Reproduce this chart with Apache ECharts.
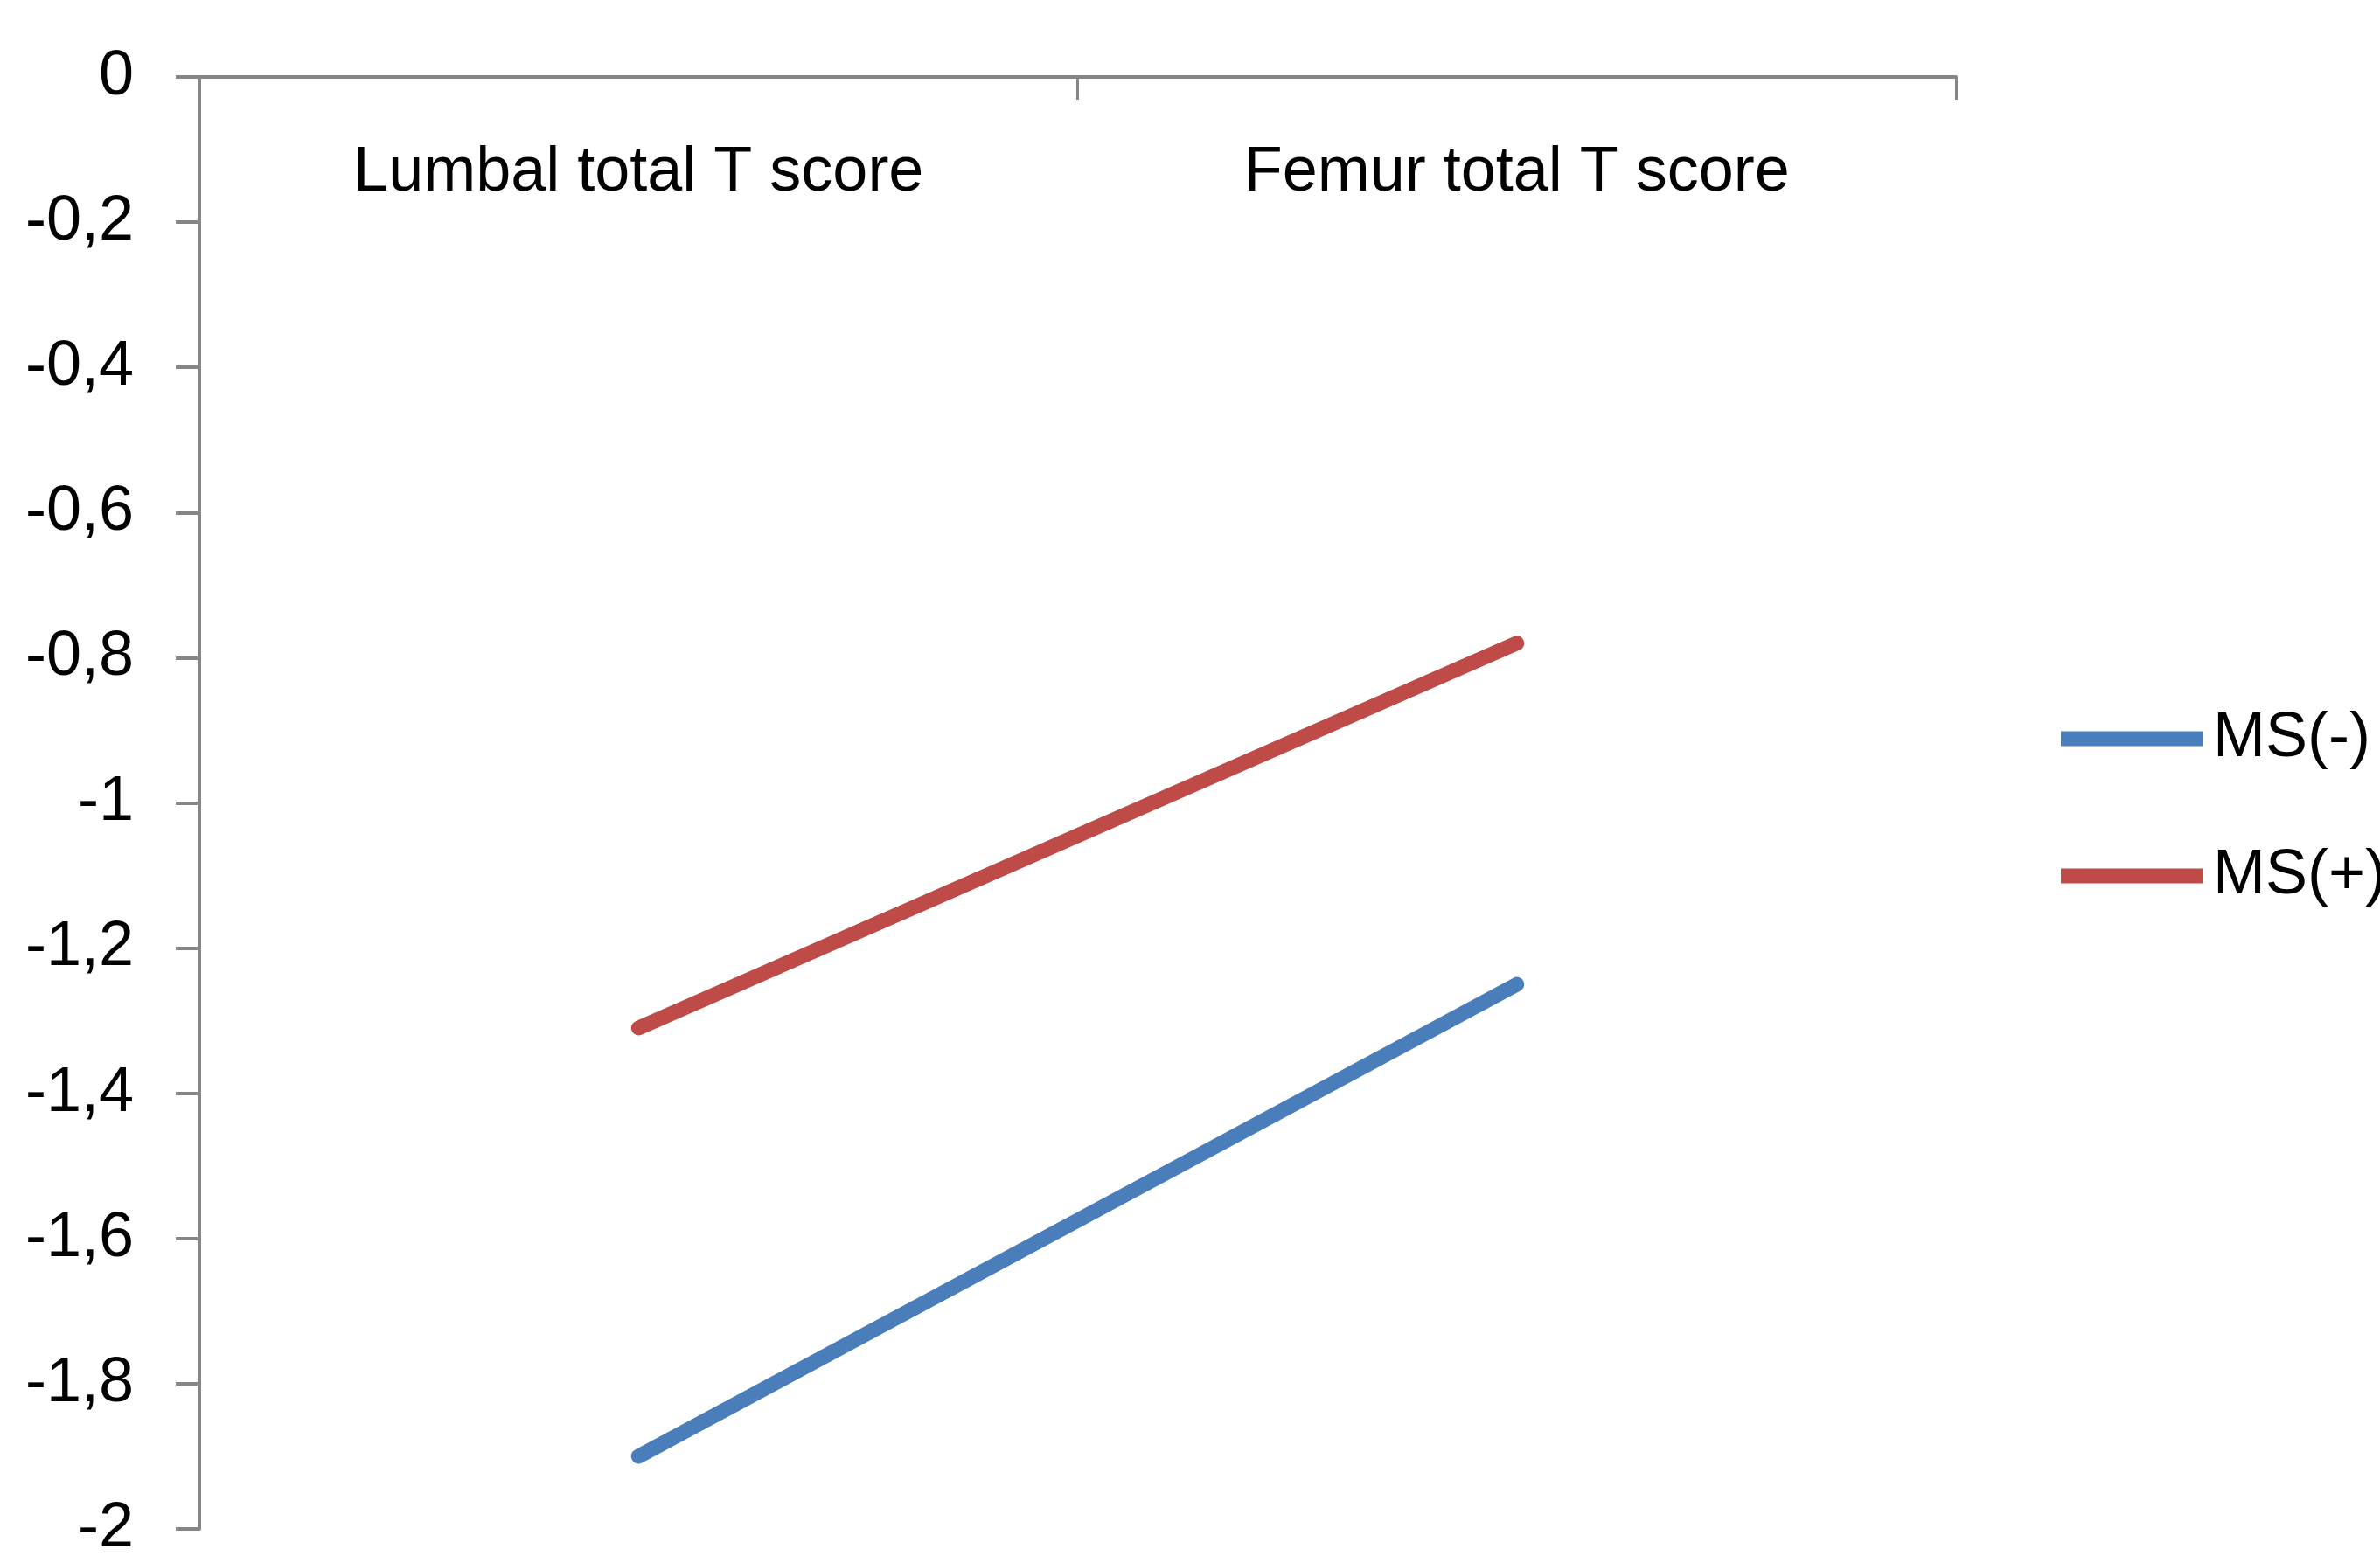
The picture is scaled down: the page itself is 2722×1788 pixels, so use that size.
<!DOCTYPE html>
<html>
<head>
<meta charset="utf-8">
<script src="https://cdn.jsdelivr.net/npm/echarts@6/dist/echarts.min.js"></script>
<style>
  html, body { margin: 0; padding: 0; background: #fff; }
  #chart { width: 2722px; height: 1788px; }
</style>
</head>
<body>
<div id="chart"></div>
<script>
// Mean T scores by measurement site, split by metabolic syndrome status
const categories = ['Lumbal total T score', 'Femur total T score'];
const seriesNames = ['MS(-)', 'MS(+)'];
const msNegative = [-1.9, -1.25];
const msPositive = [-1.31, -0.78];
const yTickLabels = ['0', '-0,2', '-0,4', '-0,6', '-0,8', '-1', '-1,2', '-1,4', '-1,6', '-1,8', '-2'];

const FONT = '"Liberation Sans", Arial, sans-serif';
const AXIS_GREY = '#868686';
const BLUE = '#4A7EBB';
const RED = '#BE4B48';

const chart = echarts.init(document.getElementById('chart'), null, { renderer: 'canvas' });

chart.setOption({
  backgroundColor: '#ffffff',
  animation: false,
  grid: { left: 228, top: 88, right: 485, bottom: 39, containLabel: false },
  legend: {
    orient: 'vertical',
    left: 2352,
    top: 795,
    itemWidth: 163,
    itemHeight: 17,
    itemGap: 67,
    icon: 'rect',
    data: seriesNames,
    textStyle: {
      fontFamily: FONT,
      fontSize: 72,
      color: '#000',
      lineHeight: 90,
      padding: [0, 0, 0, 6]
    }
  },
  xAxis: {
    type: 'category',
    position: 'top',
    data: categories,
    boundaryGap: true,
    axisLine: { show: true, lineStyle: { color: AXIS_GREY, width: 4 } },
    axisTick: { show: true, inside: true, length: 26, lineStyle: { color: AXIS_GREY, width: 3 } },
    axisLabel: {
      inside: true,
      margin: 74,
      fontFamily: FONT,
      fontSize: 72,
      color: '#000'
    },
    splitLine: { show: false }
  },
  yAxis: {
    type: 'value',
    min: -2,
    max: 0,
    interval: 0.2,
    axisLine: { show: true, lineStyle: { color: AXIS_GREY, width: 4 } },
    axisTick: { show: true, length: 27, lineStyle: { color: AXIS_GREY, width: 4 } },
    axisLabel: {
      margin: 75,
      fontFamily: FONT,
      fontSize: 72,
      color: '#000',
      formatter: function (v) {
        return yTickLabels[Math.round(-v / 0.2)];
      }
    },
    splitLine: { show: false }
  },
  series: [
    {
      name: seriesNames[0],
      type: 'line',
      data: msNegative,
      symbol: 'none',
      color: BLUE,
      lineStyle: { color: BLUE, width: 17, cap: 'round' }
    },
    {
      name: seriesNames[1],
      type: 'line',
      data: msPositive,
      symbol: 'none',
      color: RED,
      lineStyle: { color: RED, width: 17, cap: 'round' }
    }
  ]
});
</script>
</body>
</html>
